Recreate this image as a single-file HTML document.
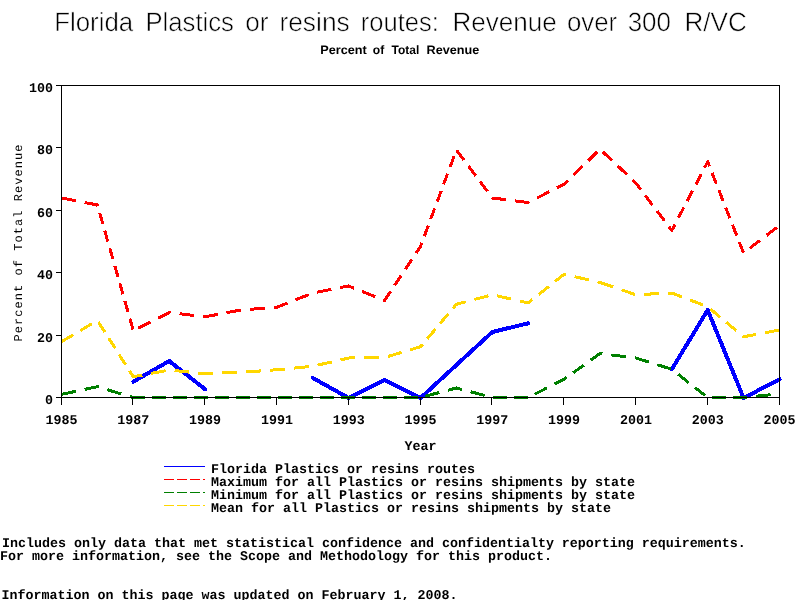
<!DOCTYPE html>
<html><head><meta charset="utf-8"><title>Florida Plastics or resins routes</title>
<style>
html,body{margin:0;padding:0;background:#fff;}
body{width:800px;height:600px;position:relative;overflow:hidden;font-family:"Liberation Sans",sans-serif;}
text{fill:#000;}
.m{font-family:"Liberation Mono",monospace;font-weight:bold;font-size:13.333px;white-space:pre;}
.title{font-family:"Liberation Sans",sans-serif;font-size:26.4px;white-space:pre;stroke:#fff;stroke-width:0.55px;}
.sub{font-family:"Liberation Sans",sans-serif;font-weight:bold;font-size:12.2px;white-space:pre;}
.yl{font-family:"Liberation Mono",monospace;font-size:12px;white-space:pre;}
</style></head><body>
<svg width="800" height="600" viewBox="0 0 800 600" style="position:absolute;left:0;top:0" shape-rendering="crispEdges">
<g transform="translate(0.5 0.5)">
<path d="M132.8 381.2 L168.7 360.5 L204.6 388.8" stroke="#0000ff" stroke-width="4" fill="none" stroke-linejoin="round" stroke-linecap="round"/>
<path d="M312.3 377.5 L348.2 397.5 L384.1 379.5 L420.0 397.5 L455.9 364.5 L491.8 331.5 L527.7 322.8" stroke="#0000ff" stroke-width="4" fill="none" stroke-linejoin="round" stroke-linecap="round"/>
<path d="M671.3 368.8 L707.2 309.5 L743.1 397.5 L779.0 378.8" stroke="#0000ff" stroke-width="4" fill="none" stroke-linejoin="round" stroke-linecap="round"/>
<path d="M61.0 197.5 L75.4 200.3 M84.2 202.0 L96.9 204.5 L97.3 205.8 M99.2 212.5 L102.3 223.4 M104.2 230.1 L107.3 241.0 M109.3 247.7 L112.4 258.6 M114.3 265.3 L117.4 276.2 M119.3 282.9 L122.4 293.8 M124.4 300.5 L127.5 311.4 M129.4 318.1 L132.5 329.0 M137.5 327.7 L149.8 321.5 M157.4 317.7 L168.7 312.0 L170.0 312.2 M179.0 313.2 L193.7 315.0 M202.7 316.0 L204.6 316.2 L217.2 313.9 M226.0 312.2 L240.4 309.5 M249.5 308.8 L264.3 307.7 M273.4 307.0 L276.4 306.8 L286.9 302.6 M294.9 299.4 L308.1 294.2 M316.5 291.7 L330.9 288.9 M339.7 287.1 L348.2 285.5 L353.6 287.7 M361.6 290.9 L374.7 296.2 M382.8 299.5 L384.1 300.0 L390.1 291.0 M394.1 284.9 L400.8 274.9 M404.8 268.8 L411.5 258.8 M415.6 252.7 L420.0 246.0 L421.3 242.4 M423.8 235.9 L427.8 225.1 M430.2 218.5 L434.2 207.8 M436.7 201.2 L440.7 190.4 M443.1 183.8 L447.1 173.1 M449.6 166.5 L453.6 155.8 M456.1 149.8 L463.4 159.5 M467.9 165.5 L475.1 175.2 M479.6 181.2 L486.9 190.9 M491.3 196.9 L491.8 197.5 L505.6 199.2 M514.6 200.4 L527.7 202.0 L529.0 201.3 M536.5 197.5 L548.9 191.2 M556.4 187.4 L563.6 183.8 L567.4 180.1 M572.9 174.6 L582.0 165.8 M587.6 160.4 L596.6 151.5 M602.3 151.3 L611.5 160.1 M617.2 165.4 L626.5 174.1 M632.2 179.5 L635.4 182.5 L640.2 188.9 M644.7 194.8 L652.0 204.5 M656.5 210.5 L663.9 220.2 M668.4 226.1 L671.3 230.0 L674.6 223.8 M677.9 217.4 L683.3 207.0 M686.6 200.6 L692.1 190.2 M695.4 183.9 L700.8 173.5 M704.1 167.1 L707.2 161.2 L709.0 165.9 M711.6 172.5 L715.8 183.2 M718.4 189.8 L722.6 200.5 M725.2 207.0 L729.4 217.7 M732.0 224.3 L736.2 235.0 M738.8 241.5 L743.0 252.2 M749.2 247.8 L759.6 239.8 M766.0 234.9 L776.4 227.0" stroke="#ff0000" stroke-width="3" fill="none" stroke-linejoin="round"/>
<path d="M61.0 393.8 L75.3 390.8 M84.1 388.9 L96.9 386.2 L98.4 386.7 M106.9 389.2 L120.7 393.4 M129.2 395.9 L132.8 397.0 L144.4 397.0 M151.4 397.0 L165.4 397.0 M172.4 397.0 L186.4 397.0 M193.4 397.0 L204.6 397.0 L207.4 397.0 M214.4 397.0 L228.4 397.0 M235.4 397.0 L240.5 397.0 L249.4 397.0 M256.4 397.0 L270.4 397.0 M277.4 397.0 L291.4 397.0 M298.4 397.0 L312.3 397.0 L312.4 397.0 M319.4 397.0 L333.4 397.0 M340.4 397.0 L348.2 397.0 L354.4 397.0 M361.4 397.0 L375.4 397.0 M382.4 397.0 L384.1 397.0 L396.4 397.0 M403.4 397.0 L417.4 397.0 M424.8 395.7 L438.8 392.0 M447.4 389.8 L455.9 387.5 L461.4 389.0 M470.0 391.2 L484.1 395.0 M492.6 397.0 L506.6 397.0 M513.6 397.0 L527.6 397.0 M534.2 393.7 L546.5 387.4 M554.1 383.6 L563.6 378.8 L566.1 377.0 M572.6 372.3 L583.4 364.6 M590.0 359.8 L599.5 353.0 L601.9 353.3 M610.9 354.4 L625.6 356.3 M634.6 357.4 L635.4 357.5 L648.4 361.6 M656.8 364.2 L670.5 368.5 M671.3 368.8 L671.5 368.9 M677.8 373.9 L688.1 382.0 M694.4 386.9 L704.6 395.0 M711.9 397.0 L725.9 397.0 M732.9 397.0 L743.1 397.0 L746.3 396.7 M755.4 395.7 L770.1 394.2" stroke="#008000" stroke-width="3" fill="none" stroke-linejoin="round"/>
<path d="M61.0 341.2 L72.7 334.3 M79.8 330.1 L91.5 323.2 M97.9 321.5 L104.3 331.6 M108.2 337.8 L114.7 347.8 M118.6 354.0 L125.0 364.1 M129.0 370.2 L132.8 376.2 L141.9 374.5 M150.7 372.9 L165.2 370.2 M174.1 370.1 L188.9 371.6 M197.9 372.5 L204.6 373.2 L212.7 372.9 M221.8 372.5 L236.6 371.9 M245.7 371.4 L260.6 370.4 M269.6 369.7 L276.4 369.2 L284.4 368.5 M293.5 367.6 L308.2 366.1 M317.1 364.6 L331.3 361.4 M340.0 359.4 L348.2 357.5 L354.5 357.4 M363.7 357.3 L378.5 357.1 M387.4 356.0 L401.2 351.9 M409.7 349.3 L420.0 346.2 L422.0 343.9 M426.9 338.1 L434.9 328.7 M439.7 322.9 L447.7 313.4 M452.6 307.7 L455.9 303.8 L465.2 301.3 M473.8 299.0 L487.9 295.3 M496.5 295.3 L510.8 298.6 M519.5 300.6 L527.7 302.5 L532.0 299.1 M538.2 294.1 L548.4 285.9 M554.6 280.9 L563.6 273.8 L565.3 274.1 M574.0 276.1 L588.2 279.4 M597.0 281.4 L599.5 282.0 L612.8 286.5 M621.1 289.4 L634.6 294.0 M643.7 293.8 L658.5 293.1 M667.6 292.7 L671.3 292.5 L681.3 296.3 M689.4 299.4 L702.6 304.5 M709.9 308.5 L719.8 316.8 M725.9 321.9 L735.8 330.2 M741.9 335.3 L743.1 336.2 L755.8 333.9 M764.7 332.2 L779.0 329.5" stroke="#ffd700" stroke-width="3" fill="none" stroke-linejoin="round"/>
</g>
<rect x="61.5" y="85.5" width="718" height="312" fill="none" stroke="#000" stroke-width="1"/>
<path d="M56 397.5 H61 M56 335.5 H61 M56 272.5 H61 M56 210.5 H61 M56 147.5 H61 M56 85.5 H61 M61.5 397 V405 M132.5 397 V405 M204.5 397 V405 M276.5 397 V405 M348.5 397 V405 M420.5 397 V405 M491.5 397 V405 M563.5 397 V405 M635.5 397 V405 M707.5 397 V405 M779.5 397 V405" stroke="#000" stroke-width="1" fill="none"/>
<path d="M164 466.5 H205" stroke="#0000ff" stroke-width="1"/>
<path d="M164 479.5 H205" stroke="#ff0000" stroke-width="1" stroke-dasharray="9.5 3.5"/>
<path d="M164 492.5 H205" stroke="#008000" stroke-width="1" stroke-dasharray="9.5 3.5"/>
<path d="M164 505.5 H205" stroke="#ffd700" stroke-width="1" stroke-dasharray="9.5 3.5"/>
</svg>
<svg width="800" height="600" viewBox="0 0 800 600" style="position:absolute;left:0;top:0;will-change:transform" text-rendering="geometricPrecision">
<text x="53.00" y="403.70" class="m" text-anchor="end">0</text>
<text x="53.00" y="342.30" class="m" text-anchor="end">20</text>
<text x="53.00" y="278.90" class="m" text-anchor="end">40</text>
<text x="53.00" y="216.50" class="m" text-anchor="end">60</text>
<text x="53.00" y="154.10" class="m" text-anchor="end">80</text>
<text x="53.00" y="91.70" class="m" text-anchor="end">100</text>
<text x="45.50" y="424.00" class="m" text-anchor="start">1985</text>
<text x="117.30" y="424.00" class="m" text-anchor="start">1987</text>
<text x="189.10" y="424.00" class="m" text-anchor="start">1989</text>
<text x="260.90" y="424.00" class="m" text-anchor="start">1991</text>
<text x="332.70" y="424.00" class="m" text-anchor="start">1993</text>
<text x="404.50" y="424.00" class="m" text-anchor="start">1995</text>
<text x="476.30" y="424.00" class="m" text-anchor="start">1997</text>
<text x="548.10" y="424.00" class="m" text-anchor="start">1999</text>
<text x="619.90" y="424.00" class="m" text-anchor="start">2001</text>
<text x="691.70" y="424.00" class="m" text-anchor="start">2003</text>
<text x="763.50" y="424.00" class="m" text-anchor="start">2005</text>
<text x="404.50" y="450.00" class="m" text-anchor="start">Year</text>
<text x="211.00" y="473.00" class="m" text-anchor="start">Florida Plastics or resins routes</text>
<text x="211.00" y="486.00" class="m" text-anchor="start">Maximum for all Plastics or resins shipments by state</text>
<text x="211.00" y="499.00" class="m" text-anchor="start">Minimum for all Plastics or resins shipments by state</text>
<text x="211.00" y="512.00" class="m" text-anchor="start">Mean for all Plastics or resins shipments by state</text>
<text x="2.00" y="547.00" class="m" text-anchor="start">Includes only data that met statistical confidence and confidentialty reporting requirements.</text>
<text x="0.00" y="560.00" class="m" text-anchor="start">For more information, see the Scope and Methodology for this product.</text>
<text x="1.50" y="599.00" class="m" text-anchor="start">Information on this page was updated on February 1, 2008.</text>
<text x="54.15" y="30.50" class="title" text-anchor="start" textLength="79.05" lengthAdjust="spacingAndGlyphs">Florida</text>
<text x="145.40" y="30.50" class="title" text-anchor="start" textLength="88.60" lengthAdjust="spacingAndGlyphs">Plastics</text>
<text x="245.25" y="30.50" class="title" text-anchor="start" textLength="23.25" lengthAdjust="spacingAndGlyphs">or</text>
<text x="279.45" y="30.50" class="title" text-anchor="start" textLength="70.30" lengthAdjust="spacingAndGlyphs">resins</text>
<text x="360.70" y="30.50" class="title" text-anchor="start" textLength="78.15" lengthAdjust="spacingAndGlyphs">routes:</text>
<text x="452.40" y="30.50" class="title" text-anchor="start" textLength="104.40" lengthAdjust="spacingAndGlyphs">Revenue</text>
<text x="566.95" y="30.50" class="title" text-anchor="start" textLength="50.30" lengthAdjust="spacingAndGlyphs">over</text>
<text x="627.70" y="30.50" class="title" text-anchor="start" textLength="43.30" lengthAdjust="spacingAndGlyphs">300</text>
<text x="684.40" y="30.50" class="title" text-anchor="start" textLength="62.40" lengthAdjust="spacingAndGlyphs">R/VC</text>
<text x="320.25" y="53.75" class="sub" text-anchor="start" textLength="46.50" lengthAdjust="spacingAndGlyphs">Percent</text>
<text x="372.75" y="53.75" class="sub" text-anchor="start" textLength="11.45" lengthAdjust="spacingAndGlyphs">of</text>
<text x="391.55" y="53.75" class="sub" text-anchor="start" textLength="27.70" lengthAdjust="spacingAndGlyphs">Total</text>
<text x="426.50" y="53.75" class="sub" text-anchor="start" textLength="52.75" lengthAdjust="spacingAndGlyphs">Revenue</text>
<text x="0.00" y="0.00" class="yl" text-anchor="start" transform="translate(21.5 341.5) rotate(-90)" textLength="197" lengthAdjust="spacing">Percent of Total Revenue</text>
</svg>
</body></html>
